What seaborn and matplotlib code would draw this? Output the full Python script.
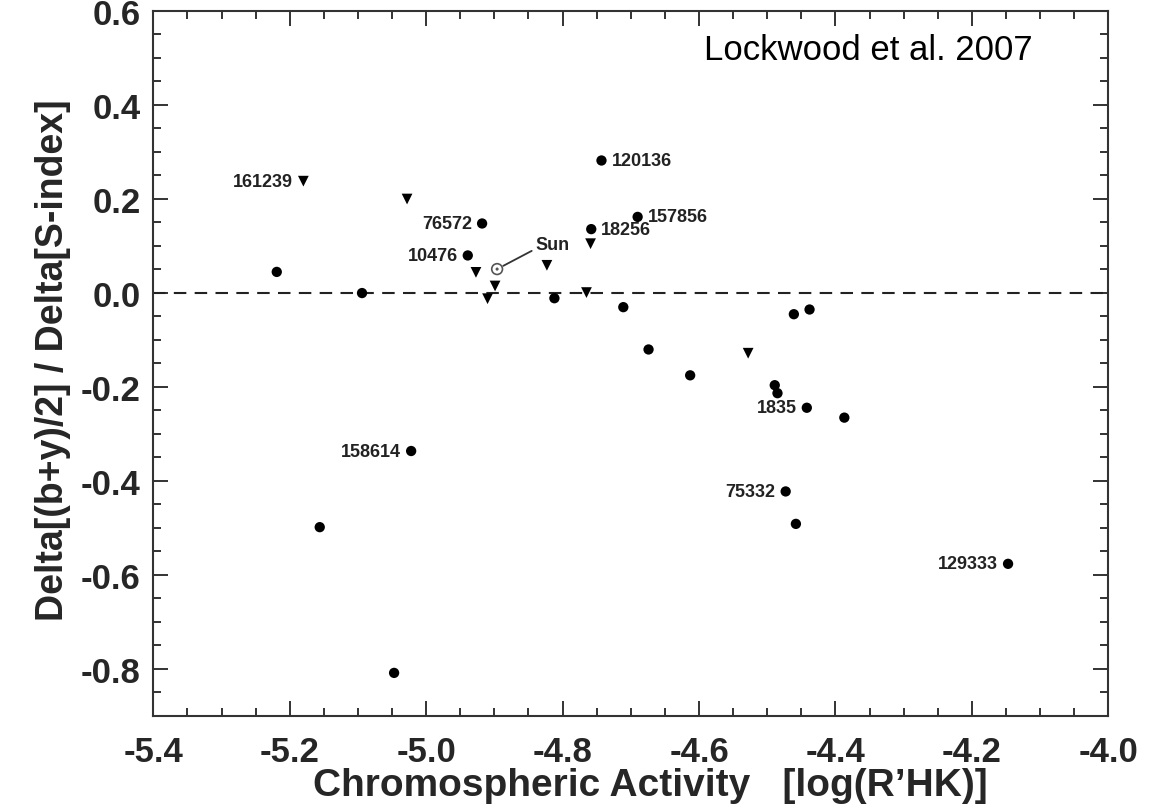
import matplotlib
matplotlib.use("Agg")
import matplotlib.pyplot as plt
from matplotlib.ticker import MultipleLocator, FormatStrFormatter
import seaborn as sns
import pandas as pd

# ---- data ----
log_rhk = [-5.180, -5.028, -4.918, -4.939, -5.219, -5.094, -4.927, -4.910, -4.899,
           -4.743, -4.690, -4.758, -4.759, -4.823, -4.812, -4.765, -4.711, -4.461,
           -4.674, -4.613, -4.528, -4.438, -4.489, -4.485, -4.442, -4.387, -4.473,
           -4.458, -4.147, -5.022, -5.156, -5.047]
delta_ratio = [0.237, 0.199, 0.147, 0.079, 0.044, -0.001, 0.043, -0.013, 0.014,
               0.281, 0.161, 0.135, 0.104, 0.058, -0.012, 0.000, -0.031, -0.046,
               -0.121, -0.176, -0.129, -0.036, -0.197, -0.214, -0.245, -0.266, -0.423,
               -0.492, -0.577, -0.337, -0.499, -0.809]
kind = ["tri", "tri", "dot", "dot", "dot", "dot", "tri", "tri", "tri",
        "dot", "dot", "dot", "tri", "tri", "dot", "tri", "dot", "dot",
        "dot", "dot", "tri", "dot", "dot", "dot", "dot", "dot", "dot",
        "dot", "dot", "dot", "dot", "dot"]
star_ids = ["161239", "", "76572", "10476", "", "", "", "", "",
            "120136", "157856", "18256", "", "", "", "", "", "",
            "", "", "", "", "", "", "1835", "", "75332",
            "", "129333", "158614", "", ""]
label_side = ["left", "", "left", "left", "", "", "", "", "",
              "right", "right", "right", "", "", "", "", "", "",
              "", "", "", "", "", "", "left", "", "left",
              "", "left", "left", "", ""]
sun_x = [-4.896]
sun_y = [0.050]

x_ticks = [-5.4, -5.2, -5.0, -4.8, -4.6, -4.4, -4.2, -4.0]
y_ticks = [-0.8, -0.6, -0.4, -0.2, 0.0, 0.2, 0.4, 0.6]

df = pd.DataFrame({"x": log_rhk, "y": delta_ratio, "kind": kind})
df_dot = df[df["kind"] == "dot"]
df_tri = df[df["kind"] == "tri"]
df_sun = pd.DataFrame({"x": sun_x, "y": sun_y})

sns.set_style("ticks")
plt.rcParams["font.family"] = ["Liberation Sans", "DejaVu Sans"]
plt.rcParams["axes.unicode_minus"] = False

fig = plt.figure(figsize=(11.63, 8.12), dpi=100)
ax = fig.add_axes([0.1318, 0.1174, 0.8212, 0.8684])

ax.axhline(0, ls=(0, (6, 4)), lw=1.5, color="#222222", zorder=1)

sns.scatterplot(data=df_dot, x="x", y="y", marker="o", s=55, color="black",
                edgecolor="none", ax=ax, zorder=3, legend=False)
sns.scatterplot(data=df_tri, x="x", y="y", marker="v", s=60, color="black",
                edgecolor="none", ax=ax, zorder=3, legend=False)
sns.scatterplot(data=df_sun, x="x", y="y", marker="o", s=60, facecolor="none",
                edgecolor="#555555", linewidth=1.2, ax=ax, zorder=3, legend=False)
sns.scatterplot(data=df_sun, x="x", y="y", marker="o", s=5, color="#555555",
                edgecolor="none", ax=ax, zorder=4, legend=False)

for xv, yv, lab, side in zip(log_rhk, delta_ratio, star_ids, label_side):
    if not lab:
        continue
    dx = -10 if side == "left" else 10
    ha = "right" if side == "left" else "left"
    ax.annotate(lab, (xv, yv), xytext=(dx, 0), textcoords="offset pixels",
                ha=ha, va="center", fontsize=13, fontweight="bold", color="#222222")

ax.annotate("Sun", (sun_x[0], sun_y[0]), xytext=(38, 25), textcoords="offset pixels",
            ha="left", va="center", fontsize=13, fontweight="bold", color="#222222",
            arrowprops=dict(arrowstyle="-", color="#333333", lw=1.3,
                            shrinkA=0, shrinkB=5, relpos=(-0.1, 0.1)))

ax.set_xlim(-5.4, -4.0)
ax.set_ylim(-0.9, 0.6)
ax.set_xticks(x_ticks)
ax.set_yticks(y_ticks)
ax.xaxis.set_minor_locator(MultipleLocator(0.05))
ax.yaxis.set_minor_locator(MultipleLocator(0.05))
ax.xaxis.set_major_formatter(FormatStrFormatter("%.1f"))
ax.yaxis.set_major_formatter(FormatStrFormatter("%.1f"))

ax.tick_params(which="both", direction="in", top=True, right=True, color="#333333", width=1.4)
ax.tick_params(which="major", length=11)
ax.tick_params(which="minor", length=6)
ax.tick_params(axis="x", which="major", pad=14, labelsize=25)
ax.tick_params(axis="y", which="major", pad=9, labelsize=25)
for t in ax.get_xticklabels() + ax.get_yticklabels():
    t.set_fontweight("bold")
for sp in ax.spines.values():
    sp.set_linewidth(1.5)
    sp.set_color("#333333")

ax.set_xlabel("Chromospheric Activity   [log(R\u2019HK)]", fontsize=28, fontweight="bold")
ax.xaxis.set_label_coords(0.52, -0.098)
ax.xaxis.label.set_va("center")
ax.set_ylabel("Delta[(b+y)/2] / Delta[S-index]", fontsize=27, fontweight="bold")
ax.yaxis.set_label_coords(-0.105, 0.506)
ax.yaxis.label.set_va("center")

ax.text(0.749, 0.945, "Lockwood et al. 2007", transform=ax.transAxes,
        ha="center", va="center", fontsize=25, color="black")

fig.savefig("out.png", dpi=100)
